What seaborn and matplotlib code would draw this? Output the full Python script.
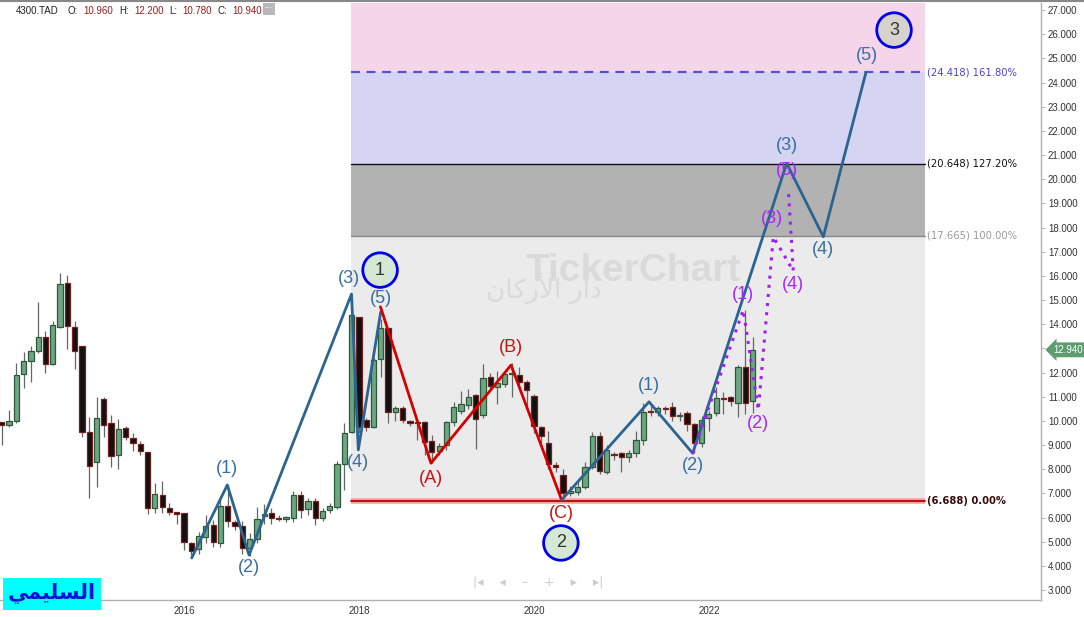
import numpy as np
import pandas as pd
import matplotlib
matplotlib.use("Agg")
import matplotlib.pyplot as plt
import matplotlib.transforms as mtransforms
from matplotlib.lines import Line2D
import seaborn as sns

# ===============================
# DATA: monthly candles (month index, Jan 2016 = 0)
# ===============================
months = list(range(-25, 79))
opens = [9.94, 9.82, 9.98, 11.93, 12.47, 12.88, 13.46, 12.34, 13.87, 15.69,
         13.87, 13.09, 9.53, 8.29, 10.89, 9.90, 8.58, 9.69, 9.28, 9.03,
         8.70, 6.38, 6.92, 6.38, 6.22, 6.18, 4.93, 4.69, 5.18, 5.68,
         4.94, 6.47, 5.80, 5.64, 4.73, 5.10, 6.05, 6.18, 6.00, 5.95,
         5.97, 6.92, 6.34, 6.67, 5.97, 6.30, 6.43, 8.20, 9.55, 14.29,
         10.02, 9.76, 12.56, 13.86, 10.38, 10.52, 9.98, 9.95, 9.97, 9.17,
         8.77, 9.00, 9.97, 10.42, 10.66, 11.06, 10.23, 11.80, 11.41, 11.51,
         11.93, 11.89, 11.60, 11.03, 9.76, 9.10, 8.15, 7.75, 7.00, 7.05,
         7.28, 8.11, 9.37, 7.90, 8.62, 8.66, 8.49, 8.66, 9.20, 10.38,
         10.38, 10.50, 10.57, 10.20, 10.31, 9.87, 9.07, 10.10, 10.31, 10.93,
         10.99, 10.75, 12.24, 10.84]
highs = [9.95, 10.45, 12.40, 12.85, 13.10, 14.91, 13.72, 14.13, 16.10, 16.05,
         14.13, 13.10, 10.16, 10.98, 10.98, 10.23, 10.06, 9.80, 9.50, 9.15,
         8.72, 7.42, 7.50, 6.60, 6.25, 6.20, 5.00, 5.40, 6.10, 5.90,
         6.84, 7.34, 5.90, 5.85, 5.37, 6.43, 6.55, 6.40, 6.10, 6.05,
         7.10, 7.10, 6.80, 6.80, 6.40, 6.60, 8.33, 9.90, 14.40, 14.30,
         10.10, 12.60, 14.20, 13.90, 10.60, 10.60, 10.05, 10.00, 10.00, 9.40,
         9.10, 10.00, 10.80, 11.25, 11.30, 11.10, 12.35, 12.00, 12.05, 12.00,
         12.38, 12.24, 11.70, 11.10, 9.80, 9.60, 8.30, 8.00, 7.30, 7.50,
         8.30, 9.55, 9.55, 9.00, 8.70, 8.70, 8.80, 9.60, 10.74, 10.60,
         10.60, 10.60, 10.80, 10.35, 10.40, 9.90, 10.20, 10.40, 11.40, 11.20,
         11.05, 12.30, 14.59, 13.48]
lows = [9.00, 9.75, 9.90, 11.37, 11.62, 12.80, 11.98, 12.30, 13.85, 12.96,
        12.13, 9.33, 6.80, 7.25, 9.35, 8.08, 8.00, 9.20, 8.77, 8.58,
        6.14, 6.20, 6.20, 6.10, 5.72, 4.66, 4.45, 4.50, 4.93, 4.80,
        4.80, 5.60, 5.50, 4.50, 4.40, 4.94, 5.75, 5.75, 5.85, 5.80,
        5.80, 6.00, 6.10, 5.70, 5.85, 6.20, 6.35, 7.14, 9.50, 9.50,
        9.60, 9.70, 11.83, 9.90, 10.00, 9.90, 9.80, 9.20, 8.59, 8.25,
        8.60, 8.80, 9.80, 10.30, 10.50, 8.82, 10.10, 11.30, 10.70, 11.40,
        11.00, 11.40, 10.50, 9.50, 9.10, 8.00, 7.90, 6.73, 6.90, 6.95,
        7.20, 8.00, 7.80, 7.80, 8.40, 7.90, 8.30, 8.50, 9.00, 10.20,
        10.20, 10.30, 10.00, 10.00, 9.60, 8.66, 8.90, 9.60, 10.20, 10.30,
        10.60, 10.17, 10.30, 10.33]
closes = [9.85, 9.98, 11.89, 12.47, 12.88, 13.46, 12.34, 13.95, 15.65, 13.91,
          12.88, 9.53, 8.12, 10.11, 9.82, 8.53, 9.65, 9.32, 9.07, 8.74,
          6.38, 6.96, 6.42, 6.22, 6.16, 4.98, 4.62, 5.22, 5.64, 4.98,
          6.47, 5.85, 5.64, 4.73, 5.10, 5.93, 6.14, 5.97, 5.93, 6.00,
          6.92, 6.30, 6.67, 5.97, 6.26, 6.47, 8.20, 9.49, 14.37, 9.76,
          9.76, 12.52, 13.86, 10.36, 10.52, 10.04, 9.93, 9.90, 9.14, 8.73,
          8.98, 9.97, 10.56, 10.69, 11.00, 10.06, 11.76, 11.44, 11.55, 11.93,
          12.00, 11.60, 11.28, 9.80, 9.37, 8.22, 8.11, 7.00, 7.10, 7.26,
          8.08, 9.37, 7.94, 8.80, 8.58, 8.49, 8.66, 9.20, 10.38, 10.35,
          10.52, 10.48, 10.20, 10.22, 9.87, 9.10, 10.03, 10.28, 10.93, 10.90,
          10.82, 12.24, 10.73, 12.94]

# Elliott wave paths (month index, price)
wave_a_x = [1.06, 5.94, 8.92, 22.98, 23.91, 26.98]
wave_a_y = [4.33, 7.35, 4.45, 15.25, 8.80, 14.50]
abc_x = [26.95, 33.88, 44.86, 51.80]
abc_y = [14.72, 8.25, 12.31, 6.73]
wave_b_x = [51.80, 63.79, 69.78, 82.67, 87.70, 93.55]
wave_b_y = [6.73, 10.79, 8.66, 20.66, 17.62, 24.418]
sub_x = [69.78, 76.72, 78.78, 80.84, 83.58, 82.89]
sub_y = [8.66, 14.59, 10.45, 17.62, 16.20, 19.62]

# Fibonacci levels
fib_values = [6.688, 17.665, 20.648, 24.418]
fib_labels = ["(6.688) 0.00%", "(17.665) 100.00%", "(20.648) 127.20%", "(24.418) 161.80%"]

y_ticks = list(range(3, 28))
year_ticks = [0, 24, 48, 72]
year_labels = ["2016", "2018", "2020", "2022"]
last_price = 12.94

df = pd.DataFrame({"m": months, "open": opens, "high": highs,
                   "low": lows, "close": closes})
df["up"] = df["close"] >= df["open"]

# ===============================
# Figure setup
# ===============================
sns.set_style("white")
plt.rcParams["font.family"] = ["Liberation Sans", "DejaVu Sans"]

fig = plt.figure(figsize=(10.84, 6.17), dpi=100)
ax = fig.add_axes([0.0, 17 / 617, 1041 / 1084, 597 / 617])
ax.set_xlim(-25.24, 117.56)
ax.set_ylim(2.59, 27.29)

# ===============================
# Fibonacci zones
# ===============================
z0, z1 = 22.9, 101.6
zone_colors = ["#ebebeb", "#b2b2b2", "#d5d5f3", "#f5d5e9"]
bounds = fib_values + [27.29]
for lo, hi, col in zip(bounds[:-1], bounds[1:], zone_colors):
    ax.fill_between([z0, z1], lo, hi, color=col, lw=0, zorder=0)

ax.plot([z0, z1], [6.688, 6.688], color="#f4a0a0", lw=4, zorder=1,
        solid_capstyle="butt")
ax.plot([z0, z1], [6.688, 6.688], color="#c00000", lw=1.3, zorder=1)
ax.plot([z0, z1], [17.665, 17.665], color="#888888", lw=1, zorder=1)
ax.plot([z0, z1], [20.648, 20.648], color="#111111", lw=1, zorder=1)
ax.plot([z0, z1], [24.418, 24.418], color="#5a4fd0", lw=1.6, ls=(0, (4, 3)), zorder=1)

fib_colors = ["#3a0a0a", "#9a9a9a", "#111111", "#4a44d8"]
fib_weights = ["bold", "normal", "normal", "normal"]
for val, lab, col, fw in zip(fib_values, fib_labels, fib_colors, fib_weights):
    ax.text(z1 + 0.3, val, lab, color=col, fontsize=7.2, va="center",
            ha="left", fontweight=fw, family=["DejaVu Sans"])

# watermark
ax.text(0.608, 0.551, "TickerChart", transform=ax.transAxes, fontsize=28,
        fontweight="bold", color="#dadada", ha="center", va="center", zorder=1)
ax.text(0.522, 0.522,
        "\uFEE5\uFE8E\uFEDB\uFEAD\uFEF7\uFE8D \uFEAD\uFE8D\uFEA9",
        transform=ax.transAxes, fontsize=19, color="#dadada",
        ha="center", va="center", zorder=1, family=["DejaVu Sans"])

# ===============================
# Candles
# ===============================
body_w = 0.72
for up, face, edge in [(True, "#6ea582", "#2c5a3a"), (False, "#111111", "#7a1e1e")]:
    sub = df[df["up"] == up]
    ax.vlines(sub["m"], sub["low"], sub["high"], color="#666666", lw=0.9, zorder=2)
    body_lo = np.minimum(sub["open"], sub["close"])
    body_h = np.maximum(np.abs(sub["close"] - sub["open"]), 0.06)
    ax.bar(sub["m"], body_h, bottom=body_lo, width=body_w, color=face,
           edgecolor=edge, linewidth=0.9, zorder=3)

# ===============================
# Wave lines
# ===============================
sns.lineplot(x=wave_a_x, y=wave_a_y, sort=False, color="#2c6491", lw=2, ax=ax, zorder=4)
sns.lineplot(x=abc_x, y=abc_y, sort=False, color="#d40000", lw=2, ax=ax, zorder=4)
sns.lineplot(x=wave_b_x, y=wave_b_y, sort=False, color="#2c6491", lw=2, ax=ax, zorder=4)
sns.lineplot(x=sub_x, y=sub_y, sort=False, color="#a020f0", lw=2.2,
             linestyle=(0, (1, 2)), ax=ax, zorder=4)

blue_t = "#3a6ea2"
red_t = "#cc1111"
purp_t = "#a826ff"
lab_kw = dict(fontsize=13, ha="center", va="center", zorder=6, textcoords="offset points")

def wave_labels(xs, ys, names, offsets, color):
    for x, y, n, off in zip(xs, ys, names, offsets):
        ax.annotate(n, (x, y), xytext=off, color=color, **lab_kw)

wave_labels(wave_a_x[1:], wave_a_y[1:], ["(1)", "(2)", "(3)", "(4)", "(5)"],
            [(0, 12), (0, -9), (-2, 11), (0, -9), (0, 10)], blue_t)
wave_labels(abc_x[1:], abc_y[1:], ["(A)", "(B)", "(C)"],
            [(0, -11), (0, 13), (0, -10)], red_t)
wave_labels(wave_b_x[1:], wave_b_y[1:], ["(1)", "(2)", "(3)", "(4)", "(5)"],
            [(0, 12), (0, -9), (0, 13), (0, -9), (1, 12)], blue_t)
wave_labels(sub_x[1:], sub_y[1:], ["(1)", "(2)", "(3)", "(4)", "(5)"],
            [(0, 11), (0, -10), (-1, 13), (0, -10), (-1, 13)], purp_t)

# circled degree labels
circ_x = [26.9, 51.7, 97.4]
circ_y = [16.24, 4.95, 26.17]
circ_fc = ["#d5e8d4", "#d5e8d4", "#d8d2cc"]
ax.scatter(circ_x, circ_y, s=620, c=circ_fc, edgecolors="#0000ee",
           linewidths=2, zorder=7)
for x, y, t in zip(circ_x, circ_y, ["1", "2", "3"]):
    ax.text(x, y, t, fontsize=13, ha="center", va="center", color="#333333", zorder=8)

# ===============================
# Axes styling
# ===============================
ax.yaxis.tick_right()
ax.set_yticks(y_ticks)
# the 13.000 label sits under the last-price tag
ax.set_yticklabels(["" if v == 13 else f"{v:.3f}" for v in y_ticks])
ax.set_xticks(year_ticks)
ax.set_xticklabels(year_labels)
ax.set_xticks(np.arange(-25, 117), minor=True)
ax.tick_params(axis="y", labelsize=7, length=3, width=0.6,
               direction="out", pad=2, colors="#aaaaaa", labelcolor="#333333")
ax.tick_params(axis="x", labelsize=7, length=2, pad=2, colors="#aaaaaa",
               labelcolor="#333333")
ax.tick_params(axis="x", which="minor", length=1.5, colors="#bbbbbb")
for side in ["left", "top"]:
    ax.spines[side].set_visible(False)
for side in ["right", "bottom"]:
    ax.spines[side].set_color("#b0b0b0")
    ax.spines[side].set_linewidth(1)
ax.set_xlabel("")
ax.set_ylabel("")
ax.grid(False)

# last price tag
trans = mtransforms.blended_transform_factory(ax.transAxes, ax.transData)
ax.text(1.012, last_price, f"{last_price:.3f}", transform=trans, fontsize=7,
        color="white", ha="left", va="center", clip_on=False,
        bbox=dict(boxstyle="larrow,pad=0.25", fc="#5f9d70", ec="none"))

# header
fig.add_artist(Line2D([0, 1], [0.998, 0.998], color="#888888", lw=1.5))
hdr = [("4300.TAD", 16, "#222222"), ("O:", 68, "#222222"), ("10.960", 83, "#9b1c1c"),
       ("H:", 119, "#222222"), ("12.200", 134, "#9b1c1c"), ("L:", 169, "#222222"),
       ("10.780", 182, "#9b1c1c"), ("C:", 218, "#222222"), ("10.940", 232, "#9b1c1c")]
for txt, px, col in hdr:
    fig.text(px / 1084, 1 - 11 / 617, txt, fontsize=7, color=col,
             ha="left", va="center", family=["Liberation Sans"])
fig.text(269 / 1084, 1 - 9 / 617, "···", fontsize=6, color="white", ha="center",
         va="center", fontweight="bold",
         bbox=dict(boxstyle="square,pad=0.25", fc="#b8b8b8", ec="none"))

# navigation controls
fig.text(538 / 1084, 1 - 582 / 617, "|\u25C2    \u25C2    \u2013    +    \u25B8    \u25B8|",
         fontsize=9, color="#cccccc", ha="center", va="center", family=["DejaVu Sans"])

# author tag
fig.text(52 / 1084, 1 - 594 / 617,
         "\uFEF2\uFEE4\uFEF4\uFEE0\uFEB4\uFEDF\uFE8D",
         fontsize=15, fontweight="bold", color="#1010dd", ha="center", va="center",
         family=["DejaVu Sans"],
         bbox=dict(boxstyle="square,pad=0.25", fc="#00ffff", ec="none"))

plt.savefig("out.png", dpi=100)
plt.close()
